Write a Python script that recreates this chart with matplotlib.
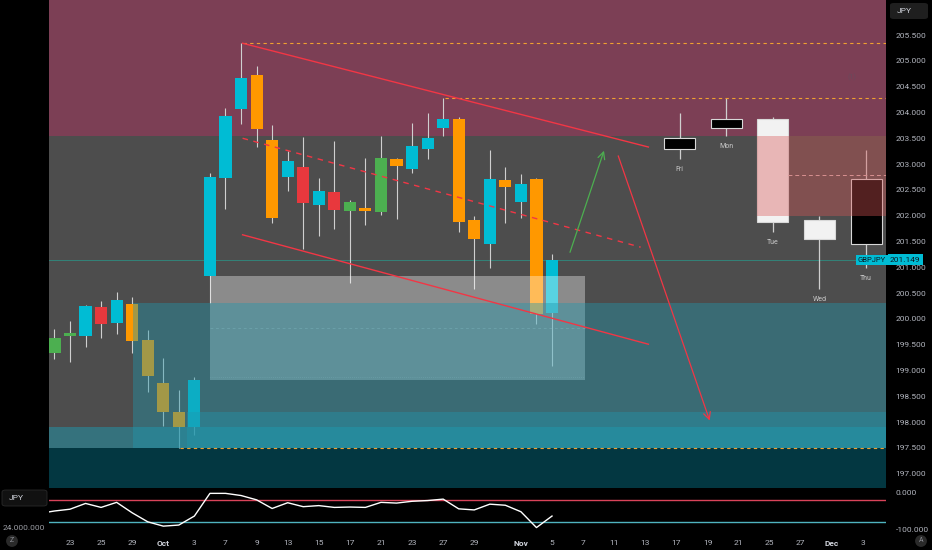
import numpy as np
import pandas as pd
import matplotlib
matplotlib.use("Agg")
import matplotlib.pyplot as plt
from matplotlib.patches import Rectangle, FancyBboxPatch

plt.rcParams['font.family'] = ['Roboto', 'DejaVu Sans']

# daily GBPJPY candles, 22 Sep .. 5 Nov 2025
candle_dates = pd.bdate_range('2025-09-22', '2025-11-05')
opens = [199.34, 199.66, 199.67, 200.23, 199.92, 200.29, 199.59, 198.76, 198.20, 197.91,
         200.83, 202.73, 204.07, 204.73, 203.47, 202.75, 202.94, 202.21, 202.46, 202.09,
         202.10, 202.07, 203.10, 202.90, 203.29, 203.70, 203.87, 201.92, 201.45, 202.69,
         202.27, 202.71, 200.11]
highs = [199.81, 199.96, 200.27, 200.35, 200.52, 200.42, 199.79, 199.24, 198.62, 198.88,
         202.83, 204.09, 205.34, 204.90, 203.76, 203.25, 203.53, 202.73, 203.45, 202.30,
         203.12, 203.55, 203.12, 203.80, 203.99, 204.28, 203.91, 201.99, 203.27, 202.94,
         202.81, 202.73, 201.26]
lows = [199.22, 199.17, 199.46, 199.63, 199.71, 199.34, 198.58, 197.93, 197.50, 197.75,
        200.30, 202.13, 203.78, 203.33, 201.86, 202.48, 201.35, 201.61, 201.74, 200.70,
        201.82, 202.01, 201.94, 202.83, 203.10, 203.54, 201.68, 200.58, 200.99, 201.86,
        201.96, 199.90, 199.09]
closes = [199.63, 199.73, 200.25, 199.90, 200.37, 199.57, 198.89, 198.20, 197.91, 198.82,
          202.75, 203.93, 204.67, 203.68, 201.96, 203.06, 202.25, 202.48, 202.11, 202.27,
          202.12, 203.12, 202.96, 203.35, 203.51, 203.87, 201.88, 201.55, 202.71, 202.56,
          202.61, 200.10, 201.149]
# candle colour codes from the indicator colouring
candle_codes = list("ggcrcooooccccoocrcrgogocccoocococ")

# Williams %R pane, starting two sessions before 23 Sep
wr_start = -2
wr_values = [-57, -50, -45, -29, -40, -26, -55, -80, -92, -89, -64, -1, -1, -7, -19, -43,
             -27, -38, -35, -40, -39, -40, -26, -28, -23, -21, -17, -44, -47, -31, -34,
             -52, -96, -64]

tick_dates = ['2025-09-23', '2025-09-25', '2025-09-29', '2025-10-01', '2025-10-03',
              '2025-10-07', '2025-10-09', '2025-10-13', '2025-10-15', '2025-10-17',
              '2025-10-21', '2025-10-23', '2025-10-27', '2025-10-29', '2025-11-03',
              '2025-11-05', '2025-11-07', '2025-11-11', '2025-11-13', '2025-11-17',
              '2025-11-19', '2025-11-21', '2025-11-25', '2025-11-27', '2025-12-01',
              '2025-12-03']

day_names = ['Fri', 'Mon', 'Tue', 'Wed', 'Thu']
last_price = 201.149

# zones and drawings (price levels)
supply_low = 203.54
demand_top = 200.31
demand_low = 197.50
band_top = 198.20
band_mid = 197.91
box_low, box_high = 198.82, 200.83
box_mid, box_dot = 199.82, 198.88
red_low, red_high, red_mid = 202.00, 203.54, 202.79
level_top, level_mid = 205.35, 204.28
chan_upper = [(11.1, 205.34), (37.2, 203.33)]
chan_lower = [(11.1, 201.63), (37.2, 199.51)]
chan_mid = [(11.1, 203.50), (36.7, 201.39)]
green_arrow = [(32.1, 201.24), (34.4, 203.31)]
red_arrow = [(35.2, 203.21), (41.2, 197.98)]

W, H = 932, 550
base = np.datetime64('2025-09-23')
xi = np.array([np.busday_count(base, np.datetime64(d.date())) for d in candle_dates])
tick_x = [np.busday_count(base, np.datetime64(d)) for d in tick_dates]
x0, x1 = -1.35, 52.48

colmap = {'c': '#00bcd4', 'o': '#ff9800', 'r': '#e8383d', 'g': '#4caf50'}
wick_col = '#cfcfcf'

fig = plt.figure(figsize=(W / 100, H / 100), dpi=100, facecolor='black')
ax = fig.add_axes([49 / W, 62 / H, 837 / W, 488 / H])
ax.set_facecolor('#4d4d4d')
ax.set_xlim(x0, x1)
ax.set_ylim(196.725, 206.178)

# background zones
ax.add_patch(Rectangle((x0, supply_low), x1 - x0, 3, fc='#7c3f55', ec='none', zorder=0))
ax.add_patch(Rectangle((x0, 190), x1 - x0, demand_low - 190, fc='#033741', ec='none', zorder=0))

# candles
opens, highs, lows, closes = map(np.array, (opens, highs, lows, closes))
ax.vlines(xi, lows, highs, color=wick_col, lw=0.8, zorder=2)
body_lo = np.minimum(opens, closes)
body_h = np.maximum(np.abs(closes - opens), 0.04)
ax.bar(xi, body_h, bottom=body_lo, width=0.78, color=[colmap[c] for c in candle_codes],
       edgecolor='none', zorder=2.1)

# consolidation box
ax.add_patch(Rectangle((9, box_low), 33.1 - 9, box_high - box_low, fc='white', alpha=0.35,
                       ec='none', zorder=3))
ax.hlines(box_mid, 9, 33.1, color='#c8d4d6', lw=0.5, ls=(0, (4, 4)), alpha=0.5, zorder=3.1)
ax.hlines(box_dot, 9, 33.1, color='#c8d4d6', lw=0.5, ls=(0, (1, 2)), alpha=0.5, zorder=3.1)

# demand zones
teal = (31 / 255, 152 / 255, 174 / 255)
ax.add_patch(Rectangle((4.05, demand_low), x1 - 4.05, demand_top - demand_low, fc=teal,
                       alpha=0.41, ec='none', zorder=4))
ax.add_patch(Rectangle((7.5, demand_low), x1 - 7.5, band_top - demand_low, fc=teal,
                       alpha=0.4, ec='none', zorder=4.1))
ax.add_patch(Rectangle((x0, demand_low), x1 - x0, band_mid - demand_low, fc=teal,
                       alpha=0.5, ec='none', zorder=4.2))

# last price line
ax.axhline(last_price, color='#2f8c80', lw=0.6, zorder=1)

# previous sessions drawn large on the right
for k, name in enumerate(day_names):
    j = 24 + k  # Fri 24 Oct .. Thu 30 Oct
    cx = 39.2 + 3 * k
    o, h, l, c = opens[j], highs[j], lows[j], closes[j]
    ax.vlines(cx, l, h, color=wick_col, lw=0.9, zorder=2)
    fc = 'black' if c >= o else '#f2f2f2'
    ax.add_patch(Rectangle((cx - 1.0, min(o, c)), 2.0, abs(c - o), fc=fc, ec='#d8d8d8',
                           lw=0.8, zorder=2.1))
    ax.annotate(name, (cx, l), xytext=(0, -7.6), textcoords='offset points', ha='center',
                va='center', fontsize=5, color='#c8c8c8', zorder=6)

# resistance overlay
ax.add_patch(Rectangle((44.2, red_low), x1 - 44.2, red_high - red_low, fc='#d85555',
                       alpha=0.38, ec='none', zorder=5))
ax.hlines(red_mid, 46.2, x1, color='#d89090', lw=0.7, ls=(0, (4, 3)), zorder=5.1)

# dashed orange levels
dash_col = '#f0a030'
ax.hlines(level_top, 11.1, x1, color=dash_col, lw=0.8, ls=(0, (3, 3)), zorder=6)
ax.hlines(level_mid, 24.1, x1, color=dash_col, lw=0.8, ls=(0, (3, 3)), zorder=6)
ax.hlines(demand_low, 7.07, x1, color=dash_col, lw=0.8, ls=(0, (3, 3)), zorder=6)

# channel
red = '#f23645'
for pts, ls in ((chan_upper, '-'), (chan_lower, '-'), (chan_mid, (0, (4, 4)))):
    ax.plot([p[0] for p in pts], [p[1] for p in pts], color=red, lw=1.0, ls=ls, zorder=6)
ax.annotate('', xy=green_arrow[1], xytext=green_arrow[0],
            arrowprops=dict(arrowstyle='->,head_length=0.5,head_width=0.25', color='#4caf50',
                            lw=0.9), zorder=6)
ax.annotate('', xy=red_arrow[1], xytext=red_arrow[0],
            arrowprops=dict(arrowstyle='->,head_length=0.5,head_width=0.25', color=red,
                            lw=0.9), zorder=6)
ax.text(50.3, 204.67, '(1)', fontsize=5, color='#6a4a5c', ha='center', va='center', zorder=6)

# right price scale
ax.yaxis.tick_right()
yt = np.arange(197.0, 205.51, 0.5)
ax.set_yticks(yt)
ax.set_yticklabels([f'{v:.3f}' for v in yt])
ax.tick_params(axis='y', length=0, pad=7, labelsize=6, labelcolor='#b2b5be')
ax.set_xticks([])
for s in ax.spines.values():
    s.set_visible(False)

# price tags
tr = ax.get_yaxis_transform()
ax.text(0.983, last_price, 'GBPJPY', transform=tr, ha='center', va='center', fontsize=5.5,
        color='#0a1a24', zorder=8, clip_on=False,
        bbox=dict(boxstyle='square,pad=0.25', fc='#00bcd4', ec='none'))
ax.text(1.023, last_price, f'{last_price:.3f}', transform=tr, ha='center', va='center',
        fontsize=6, color='#0a1a24', zorder=8, clip_on=False,
        bbox=dict(boxstyle='square,pad=0.3', fc='#00bcd4', ec='none'))

# indicator pane
ax2 = fig.add_axes([49 / W, 18 / H, 837 / W, 43 / H])
ax2.set_facecolor('black')
ax2.set_xlim(x0, x1)
ax2.set_ylim(-108.3, 11.1)
ax2.axhline(-20, color='#d9435a', lw=1.0)
ax2.axhline(-80, color='#4fb3bf', lw=1.0)
ax2.plot(np.arange(len(wr_values)) + wr_start, wr_values, color='white', lw=1.0)
ax2.yaxis.tick_right()
ax2.set_yticks([0, -100])
ax2.set_yticklabels(['0.000', '-100.000'])
ax2.tick_params(axis='y', length=0, pad=7, labelsize=6, labelcolor='#b2b5be')
ax2.set_xticks(tick_x)
labels = []
for d in tick_dates:
    t = pd.Timestamp(d)
    first = pd.bdate_range(t.replace(day=1), periods=1)[0]
    labels.append(t.strftime('%b') if t == first else str(t.day))
ax2.set_xticklabels(labels)
ax2.tick_params(axis='x', length=0, pad=6, labelsize=6, labelcolor='#b2b5be')
for lab in ax2.get_xticklabels():
    if not lab.get_text().isdigit():
        lab.set_fontweight('bold')
        lab.set_color('#d1d4dc')
for s in ax2.spines.values():
    s.set_visible(False)


def px_box(xa, ya, xb, yb, fc, ec='none'):
    fig.patches.append(FancyBboxPatch((xa / W, 1 - yb / H), (xb - xa) / W, (yb - ya) / H,
                                      boxstyle='round,pad=0,rounding_size=0.004',
                                      transform=fig.transFigure, fc=fc, ec=ec, lw=0.6))


px_box(890, 3, 928, 19, '#1f1f1f')
fig.text(897 / W, 1 - 11 / H, 'JPY', fontsize=6, color='#d1d4dc', va='center')
px_box(2, 490, 47, 506, '#111111', '#2a2a2a')
fig.text(9 / W, 1 - 498 / H, 'JPY', fontsize=6, color='#d1d4dc', va='center')
fig.text(3 / W, 1 - 528 / H, '24.000.000', fontsize=6, color='#9a9ca3', va='center')
for cx, letter in ((12, 'Z'), (921, 'A')):
    fig.text(cx / W, 1 - 541 / H, letter, fontsize=5, color='#8a8c93', ha='center',
             va='center', bbox=dict(boxstyle='circle,pad=0.35', fc='#2a2a2a', ec='none'))

fig.savefig('out.png', dpi=100, facecolor='black')
